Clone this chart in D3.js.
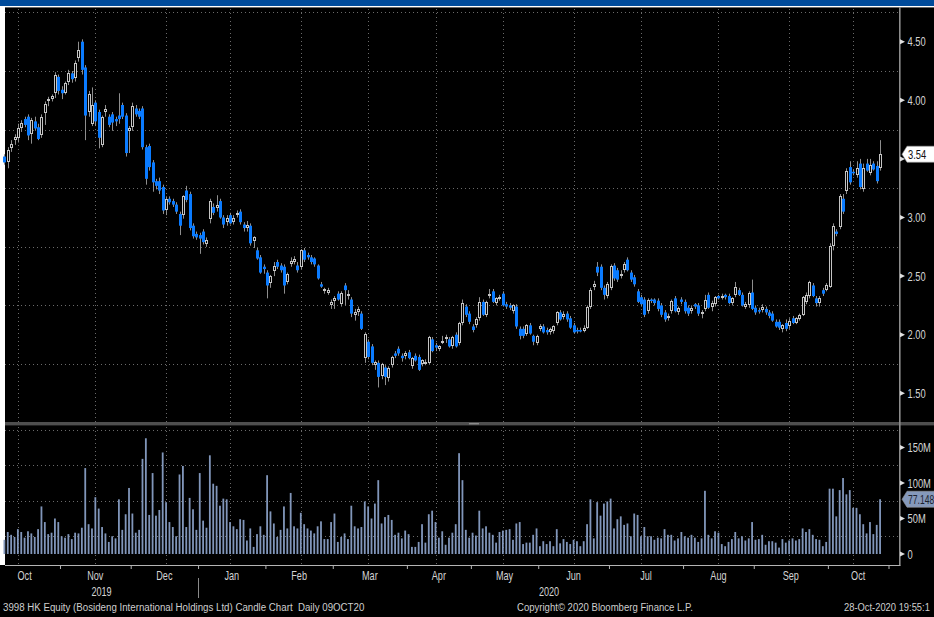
<!DOCTYPE html>
<html>
<head>
<meta charset="utf-8">
<script src="https://cdn.jsdelivr.net/npm/d3@7"></script>
<style>
  html, body { margin: 0; padding: 0; background: #000; }
  svg { display: block; }
  text { white-space: pre; }
</style>
</head>
<body>
<svg id="chart" width="934" height="617"></svg>
<script>
// daily candles, 9 Oct 2019 .. 28 Oct 2020: [open, high, low, close]
const candles = [
  [3.52,3.54,3.45,3.47],[3.47,3.60,3.42,3.58],[3.59,3.66,3.56,3.63],[3.66,3.71,3.62,3.69],[3.68,3.80,3.64,3.76],
  [3.76,3.83,3.73,3.81],[3.84,3.86,3.77,3.79],[3.86,3.88,3.66,3.70],[3.71,3.85,3.63,3.83],[3.82,3.86,3.74,3.76],
  [3.77,3.80,3.66,3.67],[3.70,3.88,3.68,3.86],[3.89,3.99,3.79,3.97],[3.99,4.03,3.95,4.01],[4.01,4.05,3.99,4.04],
  [4.06,4.24,4.02,4.22],[4.20,4.22,4.05,4.08],[4.09,4.12,4.01,4.06],[4.06,4.16,4.05,4.15],[4.16,4.26,4.13,4.23],
  [4.23,4.25,4.15,4.18],[4.19,4.34,4.16,4.32],[4.36,4.50,4.33,4.43],[4.50,4.52,4.22,4.26],[4.28,4.30,3.66,3.87],
  [3.90,4.08,3.86,4.05],[3.80,4.11,3.78,3.96],[3.98,4.00,3.78,3.82],[3.90,3.92,3.59,3.68],[3.62,3.87,3.60,3.86],
  [3.90,3.96,3.86,3.93],[3.86,3.88,3.77,3.79],[3.88,3.90,3.74,3.81],[3.84,3.86,3.78,3.82],[3.87,4.06,3.80,3.84],
  [3.96,3.98,3.84,3.86],[3.87,3.89,3.52,3.55],[3.74,3.78,3.55,3.76],[3.77,3.98,3.74,3.95],[3.93,3.96,3.86,3.88],
  [3.91,3.93,3.84,3.86],[3.93,3.95,3.58,3.60],[3.60,3.62,3.28,3.33],[3.61,3.63,3.40,3.43],[3.47,3.49,3.22,3.30],
  [3.31,3.33,3.24,3.27],[3.31,3.34,3.20,3.23],[3.26,3.28,3.03,3.06],[3.06,3.18,3.02,3.16],[3.16,3.18,3.11,3.13],
  [3.14,3.16,3.09,3.11],[3.11,3.13,3.03,3.05],[3.03,3.05,2.85,2.93],[3.02,3.19,2.99,3.18],[3.23,3.27,3.13,3.15],
  [3.20,3.22,2.89,2.91],[2.93,2.95,2.82,2.84],[2.86,2.88,2.81,2.83],[2.85,2.87,2.69,2.82],[2.88,2.90,2.77,2.79],
  [2.77,2.83,2.75,2.81],[2.99,3.16,2.95,3.14],[3.09,3.12,3.02,3.04],[3.08,3.19,3.05,3.11],[3.14,3.16,2.99,3.00],
  [3.00,3.02,2.91,2.94],[2.96,3.02,2.93,3.00],[3.02,3.04,2.94,2.95],[2.96,3.02,2.94,3.00],[3.02,3.06,3.00,3.04],
  [3.05,3.07,2.94,2.96],[2.94,2.96,2.88,2.91],[2.91,2.97,2.88,2.94],[2.93,2.95,2.76,2.78],[2.80,2.84,2.74,2.83],
  [2.72,2.74,2.64,2.65],[2.66,2.68,2.52,2.53],[2.58,2.60,2.52,2.56],[2.53,2.55,2.31,2.42],[2.44,2.51,2.40,2.50],
  [2.54,2.62,2.50,2.59],[2.62,2.64,2.56,2.58],[2.59,2.61,2.53,2.55],[2.58,2.60,2.35,2.42],[2.45,2.53,2.43,2.52],
  [2.60,2.66,2.58,2.63],[2.62,2.67,2.60,2.65],[2.59,2.62,2.53,2.55],[2.58,2.73,2.56,2.72],[2.72,2.74,2.62,2.64],
  [2.68,2.70,2.64,2.66],[2.66,2.68,2.60,2.62],[2.65,2.66,2.58,2.60],[2.59,2.60,2.47,2.48],[2.43,2.45,2.40,2.41],
  [2.37,2.40,2.35,2.39],[2.36,2.40,2.34,2.38],[2.25,2.30,2.22,2.28],[2.29,2.33,2.22,2.31],[2.35,2.37,2.29,2.30],
  [2.26,2.37,2.24,2.36],[2.42,2.44,2.25,2.38],[2.35,2.38,2.30,2.35],[2.30,2.32,2.15,2.18],[2.17,2.22,2.12,2.19],
  [2.19,2.24,2.16,2.22],[2.18,2.20,2.04,2.05],[1.80,2.02,1.76,2.01],[1.94,1.96,1.79,1.81],[1.90,1.92,1.74,1.76],
  [1.74,1.78,1.70,1.77],[1.76,1.78,1.55,1.64],[1.65,1.76,1.62,1.75],[1.72,1.74,1.57,1.64],[1.63,1.73,1.60,1.72],
  [1.74,1.82,1.72,1.81],[1.84,1.86,1.80,1.82],[1.88,1.90,1.82,1.84],[1.82,1.84,1.77,1.80],[1.82,1.86,1.79,1.84],
  [1.85,1.87,1.79,1.80],[1.73,1.81,1.71,1.80],[1.82,1.84,1.77,1.78],[1.81,1.83,1.69,1.70],[1.75,1.79,1.73,1.78],
  [1.77,1.79,1.74,1.77],[1.76,1.99,1.75,1.98],[1.96,1.98,1.85,1.86],[1.91,1.93,1.86,1.89],[1.88,1.91,1.86,1.90],
  [1.95,1.99,1.92,1.95],[1.96,2.00,1.93,1.98],[1.96,1.98,1.89,1.90],[1.90,1.99,1.88,1.98],[2.00,2.02,1.89,1.90],
  [1.93,2.11,1.91,2.10],[2.10,2.30,2.08,2.27],[2.24,2.26,2.15,2.17],[2.18,2.20,2.09,2.11],[2.07,2.09,2.02,2.04],
  [2.08,2.15,2.06,2.13],[2.14,2.32,2.12,2.28],[2.28,2.30,2.16,2.17],[2.17,2.29,2.15,2.28],[2.35,2.39,2.31,2.35],
  [2.37,2.39,2.27,2.28],[2.27,2.32,2.25,2.31],[2.32,2.34,2.29,2.32],[2.35,2.37,2.24,2.25],[2.26,2.28,2.22,2.24],
  [2.25,2.27,2.21,2.23],[2.20,2.26,2.18,2.25],[2.24,2.26,2.05,2.07],[2.05,2.07,1.96,1.99],[2.05,2.07,1.97,1.99],
  [2.01,2.09,1.99,2.08],[2.08,2.10,2.00,2.01],[1.99,2.00,1.91,1.94],[1.93,2.00,1.91,1.99],[2.05,2.09,2.03,2.07],
  [2.07,2.09,2.01,2.02],[2.04,2.06,2.00,2.02],[2.02,2.06,2.00,2.05],[2.03,2.08,2.01,2.07],[2.10,2.20,2.08,2.19],
  [2.19,2.21,2.12,2.13],[2.15,2.20,2.13,2.18],[2.18,2.20,2.11,2.13],[2.14,2.16,2.05,2.06],[2.08,2.10,2.01,2.02],
  [2.04,2.06,2.01,2.03],[2.04,2.06,2.02,2.03],[2.03,2.08,2.02,2.06],[2.06,2.25,2.05,2.24],[2.24,2.40,2.22,2.38],
  [2.41,2.46,2.38,2.43],[2.58,2.62,2.50,2.53],[2.58,2.60,2.38,2.40],[2.40,2.42,2.30,2.34],[2.33,2.45,2.31,2.43],
  [2.40,2.60,2.38,2.59],[2.59,2.61,2.46,2.48],[2.55,2.57,2.45,2.47],[2.50,2.55,2.48,2.52],[2.55,2.62,2.53,2.60],
  [2.64,2.66,2.54,2.55],[2.53,2.55,2.45,2.47],[2.49,2.51,2.41,2.43],[2.37,2.39,2.27,2.28],[2.32,2.34,2.24,2.26],
  [2.30,2.32,2.15,2.17],[2.20,2.31,2.18,2.30],[2.30,2.31,2.27,2.29],[2.30,2.31,2.25,2.27],[2.29,2.31,2.20,2.22],
  [2.25,2.27,2.15,2.17],[2.19,2.21,2.11,2.13],[2.14,2.18,2.12,2.16],[2.20,2.30,2.18,2.29],[2.31,2.33,2.19,2.20],
  [2.19,2.24,2.17,2.23],[2.30,2.32,2.26,2.28],[2.28,2.30,2.18,2.20],[2.23,2.25,2.16,2.18],[2.20,2.25,2.18,2.23],
  [2.26,2.27,2.22,2.24],[2.25,2.27,2.16,2.18],[2.18,2.21,2.14,2.19],[2.22,2.34,2.20,2.30],[2.34,2.36,2.22,2.23],
  [2.24,2.29,2.20,2.27],[2.26,2.33,2.24,2.32],[2.33,2.34,2.30,2.31],[2.32,2.35,2.30,2.33],[2.34,2.35,2.30,2.32],
  [2.33,2.35,2.26,2.27],[2.27,2.32,2.25,2.31],[2.34,2.45,2.32,2.41],[2.38,2.40,2.33,2.34],[2.34,2.36,2.24,2.25],
  [2.24,2.28,2.22,2.26],[2.25,2.37,2.23,2.36],[2.36,2.47,2.21,2.22],[2.23,2.25,2.17,2.19],[2.21,2.23,2.18,2.20],
  [2.21,2.26,2.19,2.24],[2.22,2.24,2.17,2.19],[2.19,2.21,2.14,2.16],[2.18,2.20,2.11,2.12],[2.11,2.13,2.06,2.07],
  [2.11,2.13,2.04,2.06],[2.05,2.09,2.02,2.08],[2.10,2.13,2.03,2.05],[2.07,2.14,2.05,2.12],[2.14,2.16,2.09,2.10],
  [2.10,2.15,2.09,2.14],[2.13,2.18,2.12,2.17],[2.17,2.33,2.16,2.32],[2.28,2.36,2.26,2.34],[2.33,2.46,2.31,2.45],
  [2.42,2.44,2.32,2.33],[2.31,2.33,2.24,2.27],[2.27,2.33,2.24,2.31],[2.38,2.40,2.33,2.35],[2.38,2.44,2.37,2.42],
  [2.41,2.78,2.40,2.76],[2.76,2.95,2.72,2.93],[2.88,2.90,2.84,2.86],[2.92,3.20,2.90,3.18],[3.16,3.20,3.03,3.05],
  [3.23,3.42,3.20,3.40],[3.43,3.48,3.28,3.30],[3.39,3.41,3.36,3.38],[3.36,3.48,3.34,3.42],[3.46,3.50,3.24,3.26],
  [3.24,3.46,3.22,3.42],[3.46,3.50,3.39,3.40],[3.38,3.50,3.36,3.45],[3.46,3.48,3.40,3.41],[3.44,3.48,3.29,3.31],
  [3.42,3.66,3.40,3.54]
];

// daily volume, millions of shares
const volumes = [
  20,31,27,24,35,31,23,32,29,24, 35,67,45,28,30,50,45,25,23,28,
  21,30,29,37,121,42,36,80,64,38, 29,17,25,22,77,34,56,93,57,30,
  34,134,163,55,114,54,62,143,73,45, 38,25,112,124,38,79,63,34,114,47,
  37,139,99,96,68,78,
  77,45,39,35,49,48,19,36,10,28, 39,27,111,60,43,24,34,67,36,86,
  39,36,58,42,36,33,29,39,46,21, 21,45,57,17,24,29,21,68,39,36,
  38,74,67,50,71,104,43,52,55,48, 27,30,22,33,28,10,10,17,42,16,
  56,61,45,23,32,13,23,30,
  42,142,104,34,23,30,26,61,36,39, 30,27,16,31,33,34,35,20,43,45,
  14,16,16,27,36,11,18,14,18,11, 35,15,21,17,14,20,18,11,18,42,
  77,22,73,54,71,74,78,36,49,53, 41,43,25,57,55,25,38,25,25,20,
  23,22,35,27,27,19,22,
  31,25,23,27,23,17,22,89,27,22, 32,30,14,11,17,21,31,22,25,19,
  22,45,20,21,27,13,18,18,16,9, 21,16,19,22,19,21,36,31,35,27,
  21,20,11,17,92,92,53,90,107,84, 90,65,65,56,42,29,45,28,41,77.148
];

// month layout in trading-day index units (first session of each month)
const monthLabels = ["Oct","Nov","Dec","Jan","Feb","Mar","Apr","May","Jun","Jul","Aug","Sep","Oct"];
const monthStarts = [-4,17,38,58,78,98,120,139,159,180,202,223,245,263];
const midMonth = [4,27,48,67,88,108,128,148,169,189,212,233,252];
const yearLabels = ["2019","2020"];
const yearFirstMonth = [0,3];

const priceTicks = [1.5,2,2.5,3,3.5,4,4.5];
const priceGrid = [1.75,2.25,2.75,3.25,3.75,4.25,4.75];
const volumeTicks = [0,50,100,150];
const volumeGrid = [25,75,125,175];
const lastPrice = 3.54;
const lastVolume = 77.148;

const footerLeft = "3998 HK Equity (Bosideng International Holdings Ltd) Candle Chart  Daily 09OCT20";
const footerMid = "Copyright\u00a9 2020 Bloomberg Finance L.P.";
const footerRight = "28-Oct-2020 19:55:1";

const W = 934, H = 617;
const left = 5, right = 900;
const priceTop = 7, priceBottom = 422;
const volTop = 426, volBottom = 565;

const FONT = "'Liberation Sans', Arial, sans-serif";
const UP = "#c4c4c4", DOWN = "#0a7bff", WICK = "#8e8e8e", VOL = "#8196ba", GRID = "#6a6a6a", TXT = "#d4d4d4";

const svg = d3.select("#chart");

const x = d3.scaleLinear().domain([0, 260]).range([4.4, 4.4 + 260 * 3.368]);
const yP = d3.scaleLinear().domain([1.5, 4.5]).range([393.3, 41.7]);
const yV = d3.scaleLinear().domain([0, 150]).range([554, 447.5]);

// squeezed text, the terminal font is tall and narrow
function label(g, px, py, str, size, sx, fill, anchor) {
  return g.append("text")
    .attr("transform", `translate(${px},${py}) scale(${sx},1)`)
    .attr("font-family", FONT)
    .attr("font-size", size)
    .attr("fill", fill)
    .attr("text-anchor", anchor || "start")
    .text(str);
}

// same, but squeezed to a given width
function fitLabel(g, px, py, str, size, width, fill) {
  const t = label(g, px, py, str, size, 1, fill);
  const natural = t.node().getComputedTextLength();
  t.attr("transform", `translate(${px},${py}) scale(${width / natural},1)`);
  return t;
}

// frame
svg.append("rect").attr("width", W).attr("height", H).attr("fill", "#000");
svg.append("rect").attr("width", W).attr("height", 6).attr("fill", "#004b9b");
svg.append("rect").attr("y", 6).attr("width", W).attr("height", 1.4).attr("fill", "#fff");
svg.append("rect").attr("y", 6).attr("width", left).attr("height", volBottom - 6).attr("fill", "#fff");

// grid
const grid = svg.append("g")
  .attr("stroke", GRID).attr("stroke-width", 1).attr("stroke-dasharray", "1,3");
grid.selectAll(".hp").data(priceGrid.filter(v => yP(v) > priceTop && yP(v) < priceBottom)).join("line")
  .attr("x1", left).attr("x2", right)
  .attr("y1", d => Math.round(yP(d)) + 0.5).attr("y2", d => Math.round(yP(d)) + 0.5);
grid.selectAll(".hv").data(volumeGrid).join("line")
  .attr("x1", left).attr("x2", right)
  .attr("y1", d => Math.round(yV(d)) + 0.5).attr("y2", d => Math.round(yV(d)) + 0.5);
grid.selectAll(".vp").data(midMonth).join("line")
  .attr("x1", d => Math.round(x(d)) + 0.5).attr("x2", d => Math.round(x(d)) + 0.5)
  .attr("y1", priceTop + 2).attr("y2", priceBottom);
grid.selectAll(".vv").data(midMonth).join("line")
  .attr("x1", d => Math.round(x(d)) + 0.5).attr("x2", d => Math.round(x(d)) + 0.5)
  .attr("y1", volTop + 1).attr("y2", volBottom);

// candles
const isUp = d => d[3] >= d[0];
const cg = svg.append("g");
cg.selectAll("line").data(candles).join("line")
  .attr("x1", (d, i) => Math.round(x(i)) + 0.5)
  .attr("x2", (d, i) => Math.round(x(i)) + 0.5)
  .attr("y1", d => yP(d[1])).attr("y2", d => yP(d[2]))
  .attr("stroke", WICK).attr("stroke-width", 1);
cg.selectAll("rect").data(candles).join("rect")
  .each(function (d, i) {
    const cx = Math.round(x(i));
    const top = yP(Math.max(d[0], d[3])), bot = yP(Math.min(d[0], d[3]));
    const r = d3.select(this);
    if (isUp(d)) {
      const t = Math.round(top) + 0.5;
      r.attr("x", cx - 0.5).attr("width", 2)
        .attr("y", t).attr("height", Math.max(1, Math.round(bot) - Math.round(top) - 1))
        .attr("fill", "#000").attr("stroke", UP).attr("stroke-width", 1);
    } else {
      r.attr("x", cx - 1).attr("width", 3)
        .attr("y", top).attr("height", Math.max(1.5, bot - top))
        .attr("fill", DOWN);
    }
  });

// volume bars
svg.append("g").selectAll("rect").data(volumes).join("rect")
  .attr("x", (d, i) => x(i) - 0.9)
  .attr("width", 1.8)
  .attr("y", d => yV(d))
  .attr("height", d => yV(0) - yV(d))
  .attr("fill", VOL);

// panel separator and right axis line
svg.append("rect").attr("x", left).attr("y", priceBottom).attr("width", W - left).attr("height", 3.4).attr("fill", "#4e4e4e");
svg.append("rect").attr("x", 469).attr("y", priceBottom + 1).attr("width", 10).attr("height", 1.4).attr("fill", "#8a8a8a");
svg.append("rect").attr("x", right - 1).attr("y", 7).attr("width", 1.6).attr("height", volBottom - 7).attr("fill", "#8c8c8c");

// bottom time axis
const tickIdx = monthStarts.map(s => s - 0.5).filter(v => x(v) > left + 2 && x(v) < right);
const xAxis = d3.axisBottom(x).tickValues(tickIdx).tickSize(4).tickFormat("");
const xa = svg.append("g").attr("transform", `translate(0,${volBottom})`).call(xAxis);
xa.select(".domain").remove();
xa.selectAll(".tick line").attr("stroke", "#b4b4b4");
svg.append("line").attr("x1", left).attr("x2", right + 0.6)
  .attr("y1", volBottom + 0.5).attr("y2", volBottom + 0.5)
  .attr("stroke", "#b4b4b4");

const axisText = svg.append("g");
monthLabels.forEach((m, k) => {
  const cx = x((monthStarts[k] + monthStarts[k + 1] - 1) / 2);
  label(axisText, cx, 580, m, 12, 0.76, TXT, "middle");
});
yearLabels.forEach((yr, k) => {
  const from = k === 0 ? left : x(monthStarts[yearFirstMonth[k]] - 0.5);
  const to = k === yearLabels.length - 1 ? right : x(monthStarts[yearFirstMonth[k + 1]] - 0.5);
  label(axisText, (from + to) / 2, 596, yr, 12, 0.76, TXT, "middle");
});
yearFirstMonth.slice(1).forEach(mi => {
  const xs = Math.round(x(monthStarts[mi] - 0.5)) + 0.5;
  svg.append("line").attr("x1", xs).attr("x2", xs).attr("y1", 578).attr("y2", 598)
    .attr("stroke", "#8a8a8a");
});

// right value axes; a tick label sitting under the last-value flag is hidden by it
function valueAxis(ticks, scale, fmt, flagY) {
  const g = svg.append("g");
  ticks.forEach(v => {
    const ty = scale(v);
    g.append("path").attr("d", `M${right},${ty - 2.5}L${right + 5},${ty}L${right},${ty + 2.5}Z`).attr("fill", "#e0e0e0");
    if (Math.abs(ty - flagY) > 13) label(g, right + 7.5, ty + 4.7, fmt(v), 13, 0.72, TXT);
  });
}
valueAxis(priceTicks, yP, d3.format(".2f"), yP(lastPrice));
valueAxis(volumeTicks, yV, v => v === 0 ? "0" : v + "M", yV(lastVolume));

// last value flags
function flag(yv, str, fill, color, sx) {
  const g = svg.append("g");
  g.append("path")
    .attr("d", `M${right + 2},${yv}L${right + 7},${yv - 8}L${W + 4},${yv - 8}L${W + 4},${yv + 8}L${right + 7},${yv + 8}Z`)
    .attr("fill", fill).attr("stroke", "#9a9a9a").attr("stroke-width", 0.6);
  label(g, right + 8, yv + 4.7, str, 13, sx, color);
}
flag(yP(lastPrice), d3.format(".2f")(lastPrice), "#ffffff", "#111", 0.72);
flag(yV(lastVolume), d3.format(".3f")(lastVolume), "#8599bb", "#1c2230", 0.66);

// footer
const foot = svg.append("g");
fitLabel(foot, 3, 611, footerLeft, 11, 362, "#cfcfcf");
fitLabel(foot, 517, 611, footerMid, 11, 176, "#cfcfcf");
fitLabel(foot, 844, 611, footerRight, 11, 86, "#cfcfcf");
</script>
</body>
</html>
